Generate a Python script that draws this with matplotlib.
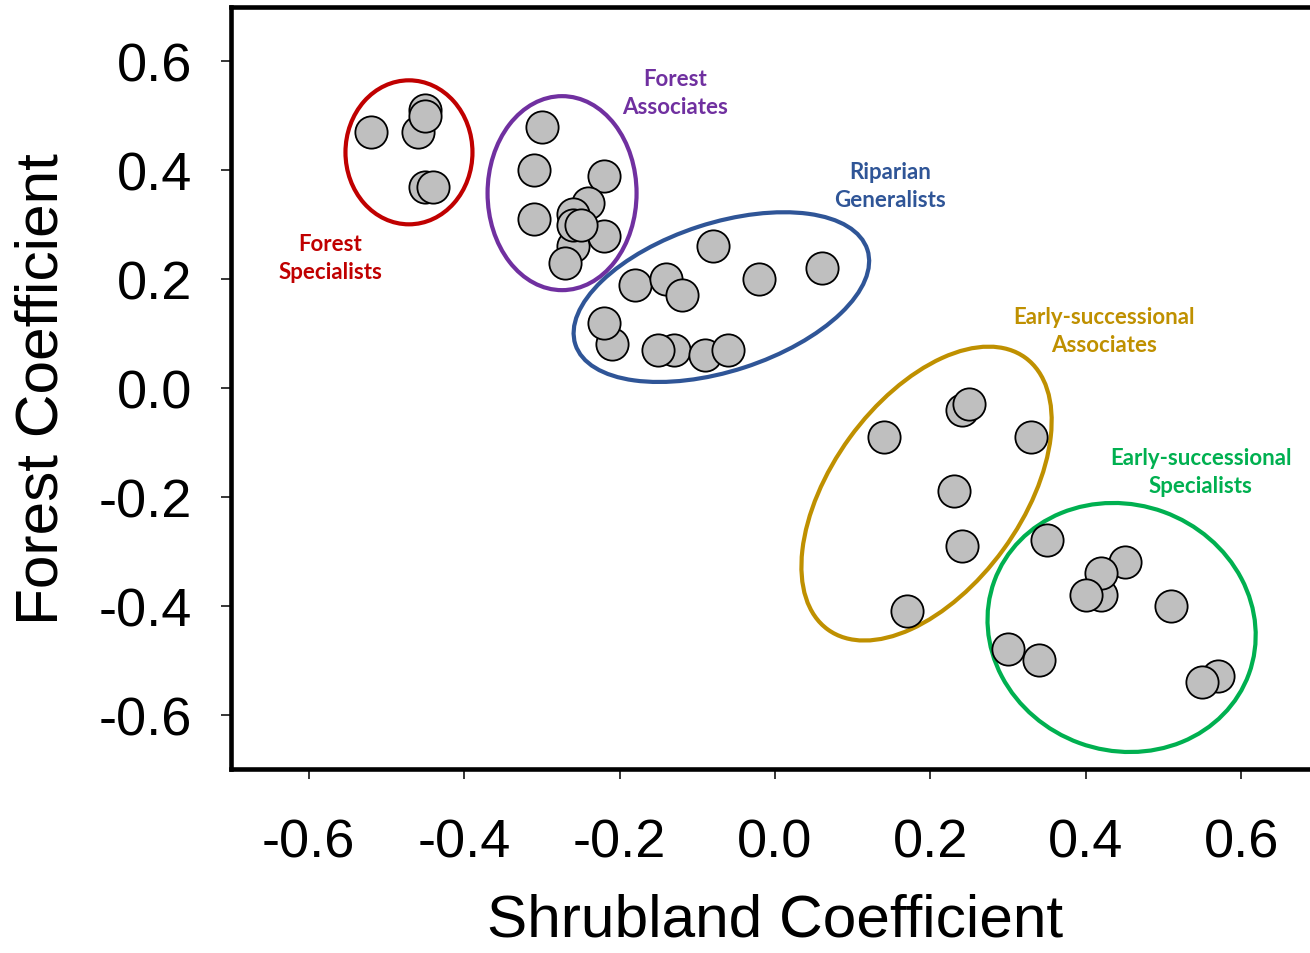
import numpy as np
import matplotlib
matplotlib.use('Agg')
import matplotlib.pyplot as plt
from matplotlib.patches import Ellipse
from matplotlib.transforms import ScaledTranslation

# guild coefficients (shrubland, forest)
forest_spec_x = [-0.52, -0.46, -0.45, -0.45, -0.45, -0.44]
forest_spec_y = [0.47, 0.47, 0.51, 0.50, 0.37, 0.37]

forest_assoc_x = [-0.30, -0.31, -0.22, -0.31, -0.24, -0.26, -0.26, -0.22, -0.26, -0.27, -0.25]
forest_assoc_y = [0.48, 0.40, 0.39, 0.31, 0.34, 0.26, 0.32, 0.28, 0.30, 0.23, 0.30]

riparian_x = [-0.08, -0.02, 0.06, -0.18, -0.14, -0.12, -0.21, -0.22, -0.13, -0.15, -0.09, -0.06]
riparian_y = [0.26, 0.20, 0.22, 0.19, 0.20, 0.17, 0.08, 0.12, 0.07, 0.07, 0.06, 0.07]

early_assoc_x = [0.14, 0.24, 0.25, 0.33, 0.23, 0.24, 0.17]
early_assoc_y = [-0.09, -0.04, -0.03, -0.09, -0.19, -0.29, -0.41]

early_spec_x = [0.35, 0.42, 0.45, 0.42, 0.40, 0.51, 0.30, 0.34, 0.57, 0.55]
early_spec_y = [-0.28, -0.38, -0.32, -0.34, -0.38, -0.40, -0.48, -0.50, -0.53, -0.54]

group_labels = ['Forest\nSpecialists', 'Forest\nAssociates', 'Riparian\nGeneralists',
                'Early-successional\nAssociates', 'Early-successional\nSpecialists']
group_colors = ['#C00000', '#7030A0', '#2F5597', '#BF9000', '#00B050']

# label anchors (data coords) and outline ellipses: centre in data, size in inches, angle in deg
label_x = [-0.572, -0.128, 0.148, 0.423, 0.548]
label_y = [0.240, 0.543, 0.372, 0.105, -0.154]
ell_cx = [-0.471, -0.274, -0.069, 0.195, 0.446]
ell_cy = [0.433, 0.358, 0.167, -0.194, -0.440]
ell_w = [1.27, 1.49, 3.07, 3.36, 2.71]
ell_h = [1.44, 1.94, 1.48, 1.90, 2.46]
ell_angle = [0, 0, 18, 54, -20]

plt.rcParams['font.family'] = ['Liberation Sans', 'DejaVu Sans']
plt.rcParams['axes.unicode_minus'] = False

fig = plt.figure(figsize=(13.1, 9.54), dpi=100)
ax = fig.add_axes([231 / 1310, 184 / 954, 1088 / 1310, 762 / 954])

for cx, cy, w, h, a, c in zip(ell_cx, ell_cy, ell_w, ell_h, ell_angle, group_colors):
    tr = fig.dpi_scale_trans + ScaledTranslation(cx, cy, ax.transData)
    ax.add_patch(Ellipse((0, 0), w, h, angle=a, transform=tr, fill=False,
                         edgecolor=c, linewidth=3.0, zorder=2))

groups = [
    (forest_spec_x, forest_spec_y),
    (forest_assoc_x, forest_assoc_y),
    (riparian_x, riparian_y),
    (early_assoc_x, early_assoc_y),
    (early_spec_x, early_spec_y),
]
for gx, gy in groups:
    ax.scatter(gx, gy, s=540, facecolor='#BFBFBF', edgecolor='black', linewidth=1.3, zorder=3)

for lx, ly, txt, c in zip(label_x, label_y, group_labels, group_colors):
    ax.text(lx, ly, txt, color=c, ha='center', va='center', fontsize=16,
            fontweight='bold', family=['Lato', 'DejaVu Sans'], linespacing=1.42, zorder=4)

ax.set_xlim(-0.7, 0.7)
ax.set_ylim(-0.7, 0.7)
ticks = np.round(np.arange(-0.6, 0.61, 0.2), 1)
ax.set_xticks(ticks)
ax.set_yticks(ticks)
ax.set_xticklabels([f'{t:.1f}' for t in ticks])
ax.set_yticklabels([f'{t:.1f}' for t in ticks])
ax.tick_params(direction='out', length=7, width=1.1, labelsize=39)
ax.tick_params(axis='x', pad=28)
ax.tick_params(axis='y', pad=21)

for side in ['left', 'bottom', 'top', 'right']:
    ax.spines[side].set_linewidth(3.3)

ax.set_xlabel('Shrubland Coefficient', fontsize=43.5, labelpad=18)
ax.set_ylabel('Forest Coefficient', fontsize=43.5, labelpad=21)

fig.savefig('out.png', dpi=100)
plt.close(fig)
